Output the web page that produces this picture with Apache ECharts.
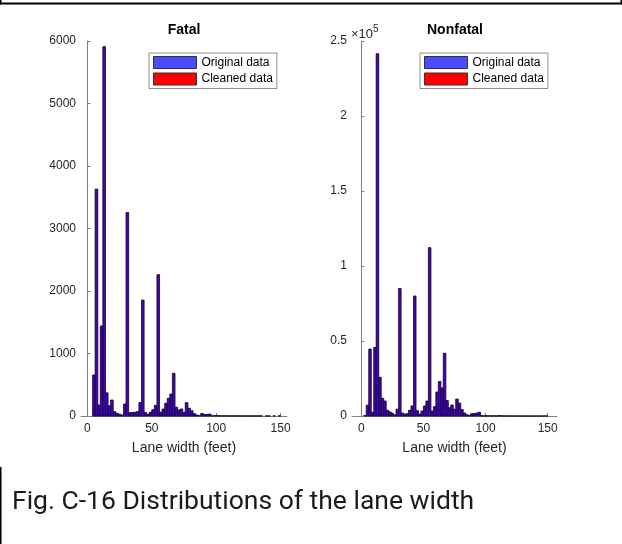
<!DOCTYPE html>
<html><head><meta charset="utf-8">
<script src="https://cdn.jsdelivr.net/npm/echarts@6/dist/echarts.min.js"></script>
<style>html,body{margin:0;padding:0;background:#fff}#c{width:622px;height:544px}</style>
</head><body><div id="c"></div>
<script>
// Histogram bin centres (feet), bin width 2
const binCenters = [1,3,5,7,9,11,13,15,17,19,21,23,25,27,29,31,33,35,37,39,41,43,45,47,49,51,53,55,57,59,
  61,63,65,67,69,71,73,75,77,79,81,83,85,87,89,91,93,95,97,99,101,103,105,107,109,111,113,115,117,119,
  121,123,125,127,129,131,133,135,137,139,141,143,145,147,149];

const fatalOriginal = [0,0,656,3630,176,1440,5910,370,165,256,
  69,43,27,16,192,3255,53,55,60,70,
  215,1855,55,25,60,100,170,2260,60,112,
  203,283,352,683,139,96,112,59,213,123,
  85,37,15,5,40,25,25,30,3,5,
  4,3,2,3,2,1,2,3,1,2,
  1,1,2,1,1,1,2,1,0,1,
  1,0,1,0,2];
const fatalCleaned = [0,0,656,3630,176,1440,5910,370,165,256,
  69,43,27,16,192,3255,53,55,60,70,
  215,1855,55,25,60,100,170,2260,60,112,
  203,283,352,683,139,96,112,59,213,123,
  85,37,15,5,40,25,25,30,3,5,
  4,3,2,3,2,1,2,3,1,2,
  1,1,2,1,1,1,2,1,0,1,
  1,0,1,0,2];

const nonfatalOriginal = [0,300,7200,44600,2500,45700,241500,25800,11800,10000,
  3800,2700,1800,700,4500,85000,2000,1300,1500,3800,
  6700,80000,3500,1300,3300,6700,10000,112200,3300,6200,
  16000,23000,18700,41800,10300,5500,7300,4500,11300,8600,
  4300,2000,800,400,1500,1600,1900,2500,200,100,
  150,100,80,120,60,300,80,50,40,60,
  30,20,40,30,20,10,20,10,10,20,
  10,10,5,10,30];
const nonfatalCleaned = [0,300,7200,44600,2500,45700,241500,25800,11800,10000,
  3800,2700,1800,700,4500,85000,2000,1300,1500,3800,
  6700,80000,3500,1300,3300,6700,10000,112200,3300,6200,
  16000,23000,18700,41800,10300,5500,7300,4500,11300,8600,
  4300,2000,800,400,1500,1600,1900,2500,200,100,
  150,100,80,120,60,300,80,50,40,60,
  30,20,40,30,20,10,20,10,10,20,
  10,10,5,10,30];

const xTickValues = [0, 50, 100, 150];
const seriesNames = ['Original data', 'Cleaned data'];
const panelTitles = ['Fatal', 'Nonfatal'];
const xAxisTitle = 'Lane width (feet)';
const caption = 'Fig. C-16 Distributions of the lane width';

const FONT = 'Liberation Sans, Arial, sans-serif';
const binWidth = binCenters[1] - binCenters[0];
const pairs = vals => binCenters.map((c, i) => [c, vals[i]]);

function makeRender(fill) {
  return function (params, api) {
    const v = api.value(1);
    if (!v) return null;
    const c = api.value(0);
    const p0 = api.coord([c - binWidth / 2, v]);
    const p1 = api.coord([c + binWidth / 2, 0]);
    return { type: 'rect',
      shape: { x: p0[0], y: p0[1], width: p1[0] - p0[0], height: p1[1] - p0[1] },
      style: { fill: fill, stroke: '#111', lineWidth: 0.5 } };
  };
}
const RED = '#ff0000', BLUE = 'rgba(0,0,255,0.7)';

function xAxis(idx, min, max) {
  return { type: 'value', gridIndex: idx, min: min, max: max,
    name: xAxisTitle, nameLocation: 'middle', nameGap: 25,
    nameTextStyle: { fontFamily: FONT, fontSize: 14, color: '#262626' },
    axisLine: { lineStyle: { color: '#808080', width: 1 } },
    axisTick: { inside: true, length: 3, customValues: xTickValues, lineStyle: { color: '#808080' } },
    axisLabel: { customValues: xTickValues, margin: 7, fontFamily: FONT, fontSize: 12, color: '#262626' },
    splitLine: { show: false } };
}
function yAxis(idx, max, interval, fmt) {
  return { type: 'value', gridIndex: idx, min: 0, max: max, interval: interval,
    axisLine: { show: true, lineStyle: { color: '#808080', width: 1 } },
    axisTick: { show: true, inside: true, length: 3, lineStyle: { color: '#808080' } },
    axisLabel: { margin: 5, fontFamily: FONT, fontSize: 12, color: '#262626', formatter: fmt },
    splitLine: { show: false } };
}
function legend(left) {
  return { left: left, top: 53, orient: 'vertical', icon: 'rect', itemWidth: 43, itemHeight: 12,
    itemGap: 3.5, padding: [3, 4, 3, 4], borderColor: '#444', borderWidth: 0.6, backgroundColor: '#fff',
    selectedMode: false, textStyle: { fontFamily: FONT, fontSize: 12, color: '#000' },
    data: [
      { name: seriesNames[0], itemStyle: { color: BLUE, borderColor: '#333', borderWidth: 1 } },
      { name: seriesNames[1], itemStyle: { color: RED, borderColor: '#333', borderWidth: 1 } }
    ] };
}
function series(idx, orig, clean) {
  return [
    { type: 'custom', name: seriesNames[1], xAxisIndex: idx, yAxisIndex: idx, data: pairs(clean),
      renderItem: makeRender(RED), itemStyle: { color: RED, borderColor: '#333', borderWidth: 1 }, z: 2 },
    { type: 'custom', name: seriesNames[0], xAxisIndex: idx, yAxisIndex: idx, data: pairs(orig),
      renderItem: makeRender(BLUE), itemStyle: { color: BLUE, borderColor: '#333', borderWidth: 1 }, z: 3 }
  ];
}

const chart = echarts.init(document.getElementById('c'), null, { renderer: 'canvas' });
chart.setOption({
  animation: false,
  backgroundColor: '#fff',
  grid: [
    { left: 81, width: 206, top: 41, bottom: 128, containLabel: false },
    { left: 352, width: 205, top: 41, bottom: 128, containLabel: false }
  ],
  xAxis: [xAxis(0, -5, 155), xAxis(1, -7.5, 157.5)],
  yAxis: [yAxis(0, 6000, 1000, v => String(v)), yAxis(1, 250000, 50000, v => String(v / 1e5))],
  legend: [legend(149), legend(420)],
  series: [].concat(series(0, fatalOriginal, fatalCleaned), series(1, nonfatalOriginal, nonfatalCleaned)),
  graphic: [
    { type: 'text', x: 184, y: 30.5, style: { text: panelTitles[0], font: 'bold 14px ' + FONT, fill: '#000', align: 'center', verticalAlign: 'middle' } },
    { type: 'text', x: 455, y: 30.5, style: { text: panelTitles[1], font: 'bold 14px ' + FONT, fill: '#000', align: 'center', verticalAlign: 'middle' } },
    { type: 'text', x: 351, y: 34, style: { text: '×10{s|5}', font: '13px ' + FONT, fill: '#262626', align: 'left', verticalAlign: 'middle',
      rich: { s: { fontSize: 10, fontFamily: FONT, fill: '#262626', verticalAlign: 'bottom', padding: [0, 0, 9, 0] } } } },
    { type: 'text', x: 12, y: 502, style: { text: caption, font: '26.5px Roboto', fill: '#1a1a1a', align: 'left', verticalAlign: 'middle' } },
    { type: 'rect', shape: { x: 0, y: 2.5, width: 622, height: 2 }, style: { fill: '#000' } },
    { type: 'rect', shape: { x: 0, y: 0, width: 1.5, height: 4.5 }, style: { fill: '#000' } },
    { type: 'rect', shape: { x: 620.5, y: 0, width: 1.5, height: 4.5 }, style: { fill: '#000' } },
    { type: 'rect', shape: { x: 0, y: 467, width: 1.5, height: 77 }, style: { fill: '#000' } }
  ]
});
</script></body></html>
